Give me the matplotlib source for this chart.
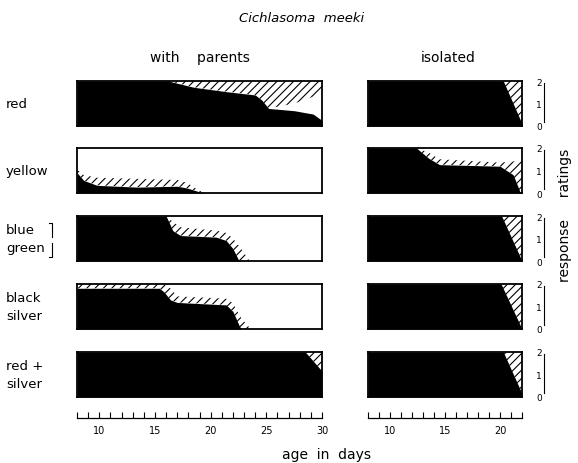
import matplotlib
matplotlib.use("Agg")
import matplotlib.pyplot as plt
from matplotlib.ticker import MultipleLocator

plt.rcParams['font.family'] = ['DejaVu Sans']
plt.rcParams['hatch.linewidth'] = 0.8

# row labels (left side)
row_labels = [["red"], ["yellow"], ["blue", "green"], ["black", "silver"], ["red +", "silver"]]

# with parents: age (days), top of black area, hatch band (lo, hi)
red_par_x = [8, 16.2, 17, 18.5, 21.5, 24.0, 24.6, 25.2, 27.5, 29.2, 30]
red_par_black = [2, 2, 1.9, 1.72, 1.52, 1.38, 1.15, 0.78, 0.68, 0.53, 0.25]
red_par_hlo = [2, 2, 1.9, 1.72, 1.52, 1.38, 1.15, 0.78, 1.0, 1.3, 1.45]
red_par_hhi = [2, 2, 2, 2, 2, 2, 2, 2, 2, 2, 2]

yel_par_x = [8, 8.6, 9.8, 13.4, 17.0, 17.9, 19.0, 19.7, 30]
yel_par_black = [0.9, 0.56, 0.34, 0.26, 0.3, 0.22, 0.05, 0, 0]
yel_par_hhi = [1.05, 0.8, 0.68, 0.63, 0.58, 0.45, 0.1, 0, 0]

bg_par_x = [8, 16.0, 16.6, 17.3, 20.5, 21.4, 22.0, 22.5, 22.8, 23.5, 30]
bg_par_black = [2, 2, 1.35, 1.13, 1.06, 0.91, 0.55, 0.05, 0, 0, 0]
bg_par_hhi = [2, 2, 1.75, 1.5, 1.35, 1.25, 1.0, 0.7, 0.5, 0, 0]

bs_par_x = [8, 15.4, 15.8, 16.4, 17.0, 21.4, 22.0, 22.6, 22.8, 23.6, 30]
bs_par_black = [1.81, 1.81, 1.65, 1.29, 1.18, 1.07, 0.78, 0.11, 0, 0, 0]
bs_par_hhi = [2, 2, 2, 1.8, 1.45, 1.35, 1.15, 0.6, 0.45, 0, 0]

rs_par_x = [8, 28.5, 30]
rs_par_black = [2, 2, 1.15]
rs_par_hhi = [2, 2, 2]

# isolated
red_iso_x = [8, 20.3, 22]
red_iso_black = [2, 2, 0.1]
red_iso_hhi = [2, 2, 2]

yel_iso_x = [8, 12.4, 13.5, 14.5, 20.0, 21.2, 21.8, 22]
yel_iso_black = [2, 2, 1.55, 1.26, 1.19, 0.81, 0.07, 0]
yel_iso_hhi = [2, 2, 1.8, 1.5, 1.35, 1.4, 1.45, 1.5]

bg_iso_x = [8, 20.15, 22]
bg_iso_black = [2, 2, 0]
bg_iso_hhi = [2, 2, 2]

bs_iso_x = [8, 20.1, 22]
bs_iso_black = [2, 2, 0]
bs_iso_hhi = [2, 2, 2]

rs_iso_x = [8, 20.3, 22]
rs_iso_black = [2, 2, 0.15]
rs_iso_hhi = [2, 2, 2]

parents = [
    (red_par_x, red_par_black, red_par_hlo, red_par_hhi),
    (yel_par_x, yel_par_black, None, yel_par_hhi),
    (bg_par_x, bg_par_black, None, bg_par_hhi),
    (bs_par_x, bs_par_black, None, bs_par_hhi),
    (rs_par_x, rs_par_black, None, rs_par_hhi),
]
isolated = [
    (red_iso_x, red_iso_black, None, red_iso_hhi),
    (yel_iso_x, yel_iso_black, None, yel_iso_hhi),
    (bg_iso_x, bg_iso_black, None, bg_iso_hhi),
    (bs_iso_x, bs_iso_black, None, bs_iso_hhi),
    (rs_iso_x, rs_iso_black, None, rs_iso_hhi),
]

W, H = 578, 464
fig = plt.figure(figsize=(W / 100, H / 100), dpi=100)


def px_axes(x0, y0, w, h):
    return fig.add_axes([x0 / W, 1 - (y0 + h) / H, w / W, h / H])


def draw_panel(ax, data, xlim):
    x, black, lo, hi = data
    if lo is None:
        lo = black
    ax.fill_between(x, lo, hi, facecolor='white', edgecolor='black', hatch='////', linewidth=0)
    ax.fill_between(x, 0, black, color='black', linewidth=0)
    ax.set_xlim(*xlim)
    ax.set_ylim(0, 2)
    ax.set_xticks([])
    for s in ax.spines.values():
        s.set_linewidth(1.3)


row_tops = [82, 149, 217, 285, 353]
ph = 45
for i, top in enumerate(row_tops):
    axl = px_axes(77, top, 245, ph)
    draw_panel(axl, parents[i], (8, 30))
    axl.set_yticks([])

    axr = px_axes(368, top, 154, ph)
    draw_panel(axr, isolated[i], (8, 22))
    axr.yaxis.tick_right()
    axr.set_yticks([0, 1, 2])
    axr.set_yticklabels(['0', '1', '2'])
    axr.tick_params(axis='y', length=0, pad=10, labelsize=6.5)
    axr.plot([1.14, 1.14], [0.1, 0.95], transform=axr.transAxes, color='black', lw=0.8, clip_on=False)

    # row labels
    lab = row_labels[i]
    yc = 1 - (top + ph / 2) / H
    if len(lab) == 1:
        fig.text(6 / W, yc, lab[0], fontsize=9.5, va='center', ha='left')
    else:
        fig.text(6 / W, yc + 9 / H, lab[0], fontsize=9.5, va='center', ha='left')
        fig.text(6 / W, yc - 9 / H, lab[1], fontsize=9.5, va='center', ha='left')

# bracket next to blue / green
fig.add_artist(plt.Line2D([49 / W, 52 / W, 52 / W], [1 - 224 / H, 1 - 224 / H, 1 - 238 / H], color='black', lw=0.8))
fig.add_artist(plt.Line2D([52 / W, 52 / W, 49 / W], [1 - 244 / H, 1 - 258 / H, 1 - 258 / H], color='black', lw=0.8))

# scale bars
for x0, w, xlim, ticks in [(77, 245, (8, 30), [10, 15, 20, 25, 30]), (368, 154, (8, 22), [10, 15, 20])]:
    ax = px_axes(x0, 418, w, 1)
    ax.set_xlim(*xlim)
    for s in ['top', 'left', 'right']:
        ax.spines[s].set_visible(False)
    ax.spines['bottom'].set_linewidth(0.9)
    ax.set_yticks([])
    ax.set_xticks(ticks)
    ax.xaxis.set_minor_locator(MultipleLocator(1))
    ax.tick_params(axis='x', which='both', direction='in', length=4, width=0.8, labelsize=7, pad=5)
    ax.patch.set_visible(False)

fig.text(302 / W, 1 - 19 / H, "Cichlasoma  meeki", fontsize=9.5, style='italic', ha='center', va='center')
fig.text(200 / W, 1 - 58 / H, "with    parents", fontsize=10, ha='center', va='center')
fig.text(448 / W, 1 - 58 / H, "isolated", fontsize=10, ha='center', va='center')
fig.text(326 / W, 1 - 455 / H, "age  in  days", fontsize=10, ha='center', va='center')
fig.text(565 / W, 1 - 215 / H, "response     ratings", fontsize=10, rotation=90, ha='center', va='center')

fig.savefig("out.png", dpi=100)
